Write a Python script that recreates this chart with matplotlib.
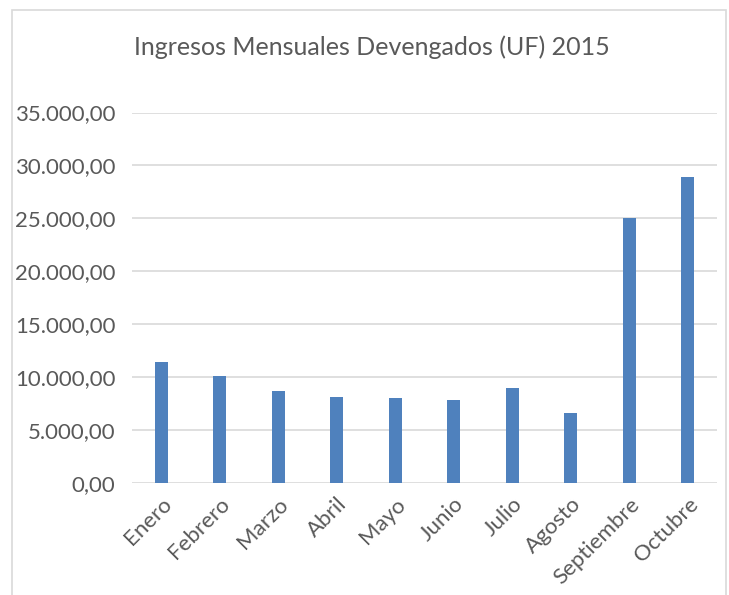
import matplotlib.pyplot as plt
from matplotlib.patches import Rectangle
from matplotlib.ticker import FuncFormatter

meses = ['Enero', 'Febrero', 'Marzo', 'Abril', 'Mayo', 'Junio', 'Julio',
         'Agosto', 'Septiembre', 'Octubre']
ingresos = [11450, 10100, 8680, 8090, 8020, 7860, 8960, 6630, 25030, 28900]

plt.rcParams['font.family'] = ['Lato', 'DejaVu Sans']

fig = plt.figure(figsize=(7.29, 5.95), dpi=100)
ax = fig.add_axes([132 / 729, 1 - 483 / 595, 585 / 729, 370.5 / 595])

# chart border like the spreadsheet frame
fig.patches.append(Rectangle((12 / 729, -0.1), 714 / 729, 1.1 - 10 / 595,
                             transform=fig.transFigure, fill=False,
                             edgecolor='#d9d9d9', linewidth=1.2))

x = range(len(meses))
ax.bar(x, ingresos, width=0.22, color='#4f81bd', zorder=3)

ax.set_ylim(0, 35000)
ax.set_xlim(-0.5, len(meses) - 0.5)
ax.set_yticks(range(0, 35001, 5000))
ax.yaxis.set_major_formatter(FuncFormatter(
    lambda v, p: f'{v:,.2f}'.replace(',', 'X').replace('.', ',').replace('X', '.')))
ax.grid(axis='y', color='#d9d9d9', linewidth=1.2, zorder=0)
for s in ax.spines.values():
    s.set_visible(False)
ax.tick_params(axis='both', length=0, labelsize=16, labelcolor='#595959')
ax.tick_params(axis='y', pad=12)
ax.set_xticks(list(x))
ax.set_xticklabels(meses, rotation=45, ha='right', rotation_mode='anchor')
ax.tick_params(axis='x', pad=8)

fig.text(372 / 729, 1 - 47 / 595, 'Ingresos Mensuales Devengados (UF) 2015',
         ha='center', va='center', fontsize=18, color='#595959')

fig.savefig('out.png', dpi=100)
